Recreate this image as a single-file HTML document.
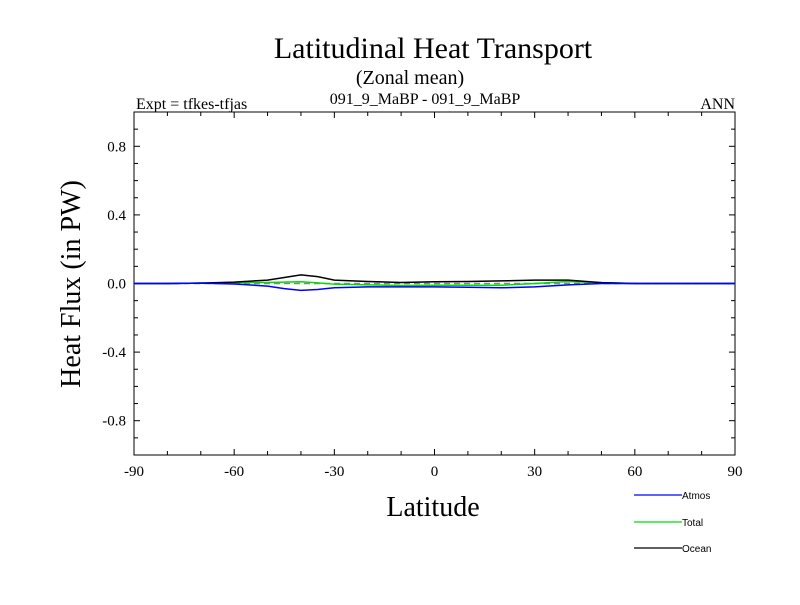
<!DOCTYPE html>
<html><head><meta charset="utf-8"><style>
body{margin:0;background:#fff}
svg text{font-family:"Liberation Serif",serif}
</style></head><body>
<svg id="chart" width="800" height="600">
<text x="433" y="58" font-size="30" text-anchor="middle">Latitudinal Heat Transport</text>
<text x="410" y="84" font-size="20" text-anchor="middle">(Zonal mean)</text>
<text x="425" y="104" font-size="16" text-anchor="middle">091_9_MaBP - 091_9_MaBP</text>
<text x="136" y="109" font-size="16">Expt = tfkes-tfjas</text>
<text x="735" y="109" font-size="16" text-anchor="end">ANN</text>
<text transform="translate(80,284) rotate(-90)" font-size="28" text-anchor="middle">Heat Flux (in PW)</text>
<text x="433" y="516" font-size="28" text-anchor="middle">Latitude</text>
<g id="axes"></g>
<g id="series"></g>
<g>
<line x1="634" y1="495" x2="682" y2="495" stroke="#0000ff" stroke-width="1.2"/>
<text x="682" y="499" font-size="10" style="font-family:'Liberation Sans',sans-serif">Atmos</text>
<line x1="634" y1="522" x2="682" y2="522" stroke="#00dd00" stroke-width="1.2"/>
<text x="682" y="526" font-size="10" style="font-family:'Liberation Sans',sans-serif">Total</text>
<line x1="634" y1="548" x2="682" y2="548" stroke="#000" stroke-width="1.2"/>
<text x="682" y="552" font-size="10" style="font-family:'Liberation Sans',sans-serif">Ocean</text>
</g>
</svg>
<script>
const lats = [-90,-80,-70,-60,-50,-45,-40,-35,-30,-20,-10,0,10,20,30,40,50,60,70,80,90];
const atmos = [0,0,0.002,-0.003,-0.015,-0.03,-0.04,-0.035,-0.025,-0.02,-0.02,-0.02,-0.022,-0.025,-0.02,-0.008,0,0,0,0,0];
const total = [0,0,0.003,0.005,0.006,0.008,0.01,0.004,-0.004,-0.008,-0.012,-0.01,-0.01,-0.01,0,0.012,0.005,0,0,0,0];
const ocean = [0,0,0.002,0.008,0.02,0.035,0.05,0.04,0.02,0.012,0.006,0.01,0.012,0.015,0.02,0.02,0.005,0,0,0,0];
const xTicks = [-90,-60,-30,0,30,60,90];
const yTicks = [-0.8,-0.4,0.0,0.4,0.8];
const L=134,R=735,T=112,B=455;
const xs=v=>L+(v+90)/180*(R-L);
const ys=v=>T+(1-v)/2*(B-T);
const NS="http://www.w3.org/2000/svg";
const ax=document.getElementById('axes'), sg=document.getElementById('series');
function mk(tag,attrs,parent){const e=document.createElementNS(NS,tag);for(const k in attrs)e.setAttribute(k,attrs[k]);parent.appendChild(e);return e;}
const frame=mk('rect',{x:L,y:T,width:R-L,height:B-T,fill:'none',stroke:'#000','stroke-width':1},ax);


for(let v=-90;v<=90;v+=10){const maj=v%30===0;const len=maj?6:4;
 for(const y0 of [B,T]){const t=mk('line',{x1:xs(v),x2:xs(v),y1:y0,y2:y0===B?y0-len:y0+len,stroke:'#000'},ax);
 
 }}
for(let i=-10;i<=10;i++){const v=i/10;const maj=i%4===0;const len=maj?6:4;
 for(const x0 of [L,R]){const t=mk('line',{x1:x0,x2:x0===L?x0+len:x0-len,y1:ys(v),y2:ys(v),stroke:'#000'},ax);
 
 }}
xTicks.forEach(v=>{const t=mk('text',{x:xs(v),y:B+21,'font-size':15,'text-anchor':'middle'},ax);t.textContent=String(v);
 
 });
yTicks.forEach(v=>{const t=mk('text',{x:L-8,y:ys(v)+5,'font-size':15,'text-anchor':'end'},ax);t.textContent=v.toFixed(1);
 
 });
const zl=mk('line',{x1:L,x2:R,y1:ys(0),y2:ys(0),stroke:'#888','stroke-dasharray':'6,4','stroke-width':1.5},sg);


function line(arr,color,name){const p=mk('polyline',{points:lats.map((la,i)=>xs(la)+','+ys(arr[i])).join(' '),fill:'none',stroke:color,'stroke-width':1.5},sg);
 
 }
line(total,'#00dd00','total-line');
line(ocean,'#000','ocean-line');
line(atmos,'#0000ff','atmos-line');
</script>
</body></html>
